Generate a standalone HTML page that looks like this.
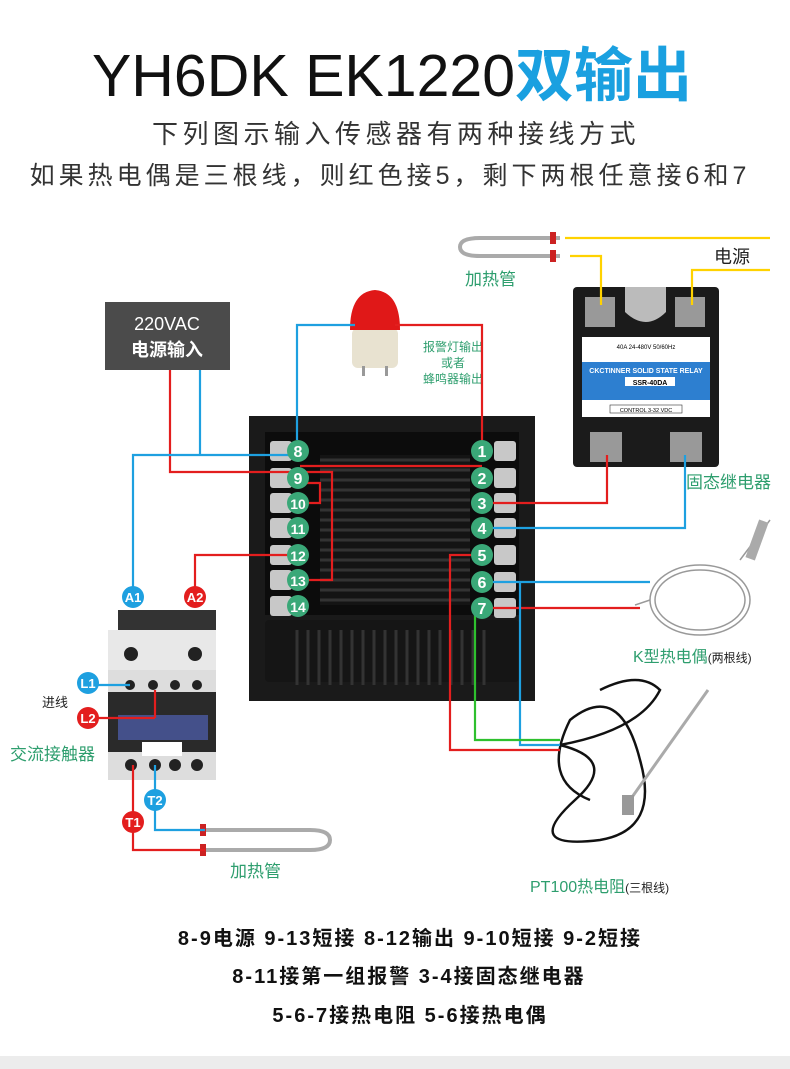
<!DOCTYPE html>
<html><head><meta charset="utf-8"><style>
html,body{margin:0;padding:0;background:#fff}
body{width:790px;height:1069px;overflow:hidden;position:relative;font-family:"Liberation Sans","Noto Sans CJK SC",sans-serif}
</style></head><body>
<svg width="790" height="1069" viewBox="0 0 790 1069" xmlns="http://www.w3.org/2000/svg" style="position:absolute;left:0;top:0;font-family:'Liberation Sans','Noto Sans CJK SC',sans-serif">
<rect x="0" y="1056" width="790" height="13" fill="#ececec"/>
<text x="392" y="96" text-anchor="middle" font-size="59" fill="#111">YH6DK EK1220<tspan fill="#1aa0e0" font-weight="bold">双输出</tspan></text>
<text x="396" y="143" text-anchor="middle" font-size="26" letter-spacing="4.5" fill="#333">下列图示输入传感器有两种接线方式</text>
<text x="390" y="184" text-anchor="middle" font-size="25" letter-spacing="4" fill="#333">如果热电偶是三根线，则红色接5，剩下两根任意接6和7</text>

<!-- 220VAC box -->
<rect x="105" y="302" width="125" height="68" fill="#4b4b4b"/>
<text x="167" y="330" text-anchor="middle" font-size="18" fill="#fff">220VAC</text>
<text x="167" y="356" text-anchor="middle" font-size="18" fill="#fff" font-weight="bold">电源输入</text>

<!-- alarm light -->
<rect x="352" y="328" width="46" height="40" rx="6" fill="#e8e2d0"/>
<path d="M350 330 Q350 292 375 290 Q400 292 400 330 Z" fill="#e01818"/>
<rect x="362" y="366" width="3" height="10" fill="#999"/><rect x="385" y="366" width="3" height="10" fill="#999"/>
<text x="453" y="351" text-anchor="middle" font-size="12" fill="#2e9e6e">报警灯输出</text>
<text x="453" y="367" text-anchor="middle" font-size="12" fill="#2e9e6e">或者</text>
<text x="453" y="383" text-anchor="middle" font-size="12" fill="#2e9e6e">蜂鸣器输出</text>

<!-- controller body -->
<rect x="249" y="416" width="286" height="285" fill="#1a1a1a"/>
<rect x="265" y="432" width="254" height="183" fill="#0c0c0c"/>
<rect x="265" y="620" width="254" height="62" rx="4" fill="#151515"/>
<rect x="320" y="455" width="150" height="150" fill="#141414"/>
<g stroke="#333" stroke-width="3">
<path d="M320 460H470M320 470H470M320 480H470M320 490H470M320 500H470M320 510H470M320 520H470M320 530H470M320 540H470M320 550H470M320 560H470M320 570H470M320 580H470M320 590H470M320 600H470"/>
<path d="M297 630V685M308 630V685M319 630V685M330 630V685M341 630V685M352 630V685M363 630V685M374 630V685M385 630V685M396 630V685M407 630V685M418 630V685M429 630V685M440 630V685M451 630V685M462 630V685M473 630V685M484 630V685"/>
</g>
<g fill="#c8c8c8">
<rect x="270" y="441" width="22" height="20" rx="3"/><rect x="270" y="468" width="22" height="20" rx="3"/><rect x="270" y="493" width="22" height="20" rx="3"/><rect x="270" y="518" width="22" height="20" rx="3"/><rect x="270" y="545" width="22" height="20" rx="3"/><rect x="270" y="570" width="22" height="20" rx="3"/><rect x="270" y="596" width="22" height="20" rx="3"/>
<rect x="494" y="441" width="22" height="20" rx="3"/><rect x="494" y="468" width="22" height="20" rx="3"/><rect x="494" y="493" width="22" height="20" rx="3"/><rect x="494" y="518" width="22" height="20" rx="3"/><rect x="494" y="545" width="22" height="20" rx="3"/><rect x="494" y="572" width="22" height="20" rx="3"/><rect x="494" y="598" width="22" height="20" rx="3"/>
</g>

<!-- SSR -->
<rect x="573" y="287" width="146" height="180" rx="4" fill="#1b1b1b"/>
<path d="M625 287 V312 Q646 332 666 312 V287 Z" fill="#bbb"/>
<rect x="585" y="297" width="30" height="30" fill="#999"/><rect x="675" y="297" width="30" height="30" fill="#999"/>
<rect x="582" y="337" width="128" height="80" fill="#fff"/>
<rect x="582" y="362" width="128" height="38" fill="#2d7fd0"/>
<text x="646" y="373" text-anchor="middle" font-size="7" fill="#fff" font-weight="bold">CKCTINNER SOLID STATE RELAY</text>
<rect x="625" y="377" width="50" height="9" fill="#fff"/><text x="650" y="385" text-anchor="middle" font-size="7" font-weight="bold">SSR-40DA</text>
<text x="646" y="349" text-anchor="middle" font-size="6">40A   24-480V  50/60Hz</text>
<rect x="610" y="405" width="72" height="8" fill="#fff" stroke="#333" stroke-width="0.6"/><text x="646" y="412" text-anchor="middle" font-size="5.5">CONTROL 3-32 VDC</text>
<rect x="590" y="432" width="32" height="30" fill="#999"/><rect x="670" y="432" width="32" height="30" fill="#999"/>
<text x="714" y="263" text-anchor="start" font-size="18" fill="#222">电源</text>
<text x="686" y="488" font-size="17" fill="#2e9e6e">固态继电器</text>

<!-- heating tubes -->
<g fill="none" stroke="#aaa" stroke-width="4">
<path d="M560 238 H480 Q460 238 460 247 Q460 256 480 256 H560"/>
<path d="M200 830 H310 Q330 830 330 840 Q330 850 310 850 H200"/>
</g>
<rect x="550" y="232" width="6" height="12" fill="#c22"/><rect x="550" y="250" width="6" height="12" fill="#c22"/>
<rect x="200" y="824" width="6" height="12" fill="#c22"/><rect x="200" y="844" width="6" height="12" fill="#c22"/>
<text x="465" y="285" font-size="17" fill="#2e9e6e">加热管</text>
<text x="230" y="877" font-size="17" fill="#2e9e6e">加热管</text>

<!-- contactor -->
<rect x="118" y="610" width="98" height="30" fill="#333"/>
<rect x="108" y="630" width="108" height="40" fill="#e8e8e8"/>
<rect x="108" y="670" width="108" height="22" fill="#ddd"/>
<rect x="108" y="692" width="108" height="60" fill="#2a2a2a"/>
<rect x="118" y="715" width="90" height="25" fill="#44508a"/>
<rect x="108" y="752" width="108" height="28" fill="#ddd"/>
<rect x="142" y="742" width="40" height="14" fill="#fff"/>
<g fill="#222"><circle cx="131" cy="654" r="7"/><circle cx="195" cy="654" r="7"/><circle cx="130" cy="685" r="5"/><circle cx="153" cy="685" r="5"/><circle cx="175" cy="685" r="5"/><circle cx="197" cy="685" r="5"/><circle cx="131" cy="765" r="6"/><circle cx="155" cy="765" r="6"/><circle cx="175" cy="765" r="6"/><circle cx="197" cy="765" r="6"/></g>
<text x="10" y="760" font-size="17" fill="#2e9e6e">交流接触器</text>
<text x="42" y="707" font-size="13" fill="#222">进线</text>

<!-- sensors -->
<g fill="none" stroke="#999" stroke-width="1.5">
<ellipse cx="700" cy="600" rx="50" ry="35"/><ellipse cx="700" cy="600" rx="45" ry="30"/>
<path d="M650 600 L635 605"/><path d="M740 560 L770 520"/>
</g>
<rect x="752" y="520" width="10" height="40" fill="#aaa" transform="rotate(20 757 540)"/>
<text x="633" y="662" font-size="16" fill="#2e9e6e">K型热电偶<tspan font-size="12" fill="#222">(两根线)</tspan></text>
<g fill="none" stroke="#111" stroke-width="2.5">
<path d="M560 745 Q620 760 575 800 Q520 850 600 840 Q660 830 640 760 Q620 680 570 720 Q540 780 590 800"/>
<path d="M560 745 Q640 730 660 690 Q640 670 600 690"/>
</g>
<path d="M630 800 L708 690" stroke="#aaa" stroke-width="3"/>
<rect x="622" y="795" width="12" height="20" fill="#999"/>
<text x="530" y="892" font-size="16" fill="#2e9e6e">PT100热电阻<tspan font-size="12" fill="#222">(三根线)</tspan></text>

<!-- wires -->
<g fill="none" stroke-width="2.2">
<path stroke="#e31e1e" d="M170 370 V472 H297 M297 472 H332 V580 H297 M297 483 H320 V503 H297 M300 466 H482 M482 451 V325 H395 M482 503 H607 V455 M297 555 H195 V597 M482 555 H450 V750 H560 M482 608 H640 M155 718 H88 M155 690 V718 M133 765 V850 H205"/>
<path stroke="#1ea0e0" d="M200 370 V455 H297 M297 455 H133 V597 M297 440 V325 H355 M482 528 H685 V455 M482 582 H650 M520 582 V745 H560 M130 685 H88 M155 765 V830 H205"/>
<path stroke="#2ec02e" d="M475 608 V740 H560"/>
<path stroke="#ffd200" d="M565 238 H770 M570 256 H601 V305 M692 305 V270 H770"/>
</g>

<!-- badges -->
<g font-size="16" fill="#fff" text-anchor="middle" font-weight="bold">
<g fill="#3aa878"><circle cx="298" cy="451" r="11"/><circle cx="298" cy="478" r="11"/><circle cx="298" cy="503" r="11"/><circle cx="298" cy="528" r="11"/><circle cx="298" cy="555" r="11"/><circle cx="298" cy="580" r="11"/><circle cx="298" cy="606" r="11"/>
<circle cx="482" cy="451" r="11"/><circle cx="482" cy="478" r="11"/><circle cx="482" cy="503" r="11"/><circle cx="482" cy="528" r="11"/><circle cx="482" cy="555" r="11"/><circle cx="482" cy="582" r="11"/><circle cx="482" cy="608" r="11"/></g>
<text x="298" y="457">8</text><text x="298" y="484">9</text><text x="298" y="509" font-size="14">10</text><text x="298" y="534" font-size="14">11</text><text x="298" y="561" font-size="14">12</text><text x="298" y="586" font-size="14">13</text><text x="298" y="612" font-size="14">14</text>
<text x="482" y="457">1</text><text x="482" y="484">2</text><text x="482" y="509">3</text><text x="482" y="534">4</text><text x="482" y="561">5</text><text x="482" y="588">6</text><text x="482" y="614">7</text>
<circle cx="133" cy="597" r="11" fill="#1ea0e0"/><text x="133" y="602" font-size="13">A1</text>
<circle cx="195" cy="597" r="11" fill="#e31e1e"/><text x="195" y="602" font-size="13">A2</text>
<circle cx="88" cy="683" r="11" fill="#1ea0e0"/><text x="88" y="688" font-size="13">L1</text>
<circle cx="88" cy="718" r="11" fill="#e31e1e"/><text x="88" y="723" font-size="13">L2</text>
<circle cx="155" cy="800" r="11" fill="#1ea0e0"/><text x="155" y="805" font-size="13">T2</text>
<circle cx="133" cy="822" r="11" fill="#e31e1e"/><text x="133" y="827" font-size="13">T1</text>
</g>

<g font-size="20" font-weight="bold" fill="#111" text-anchor="middle" letter-spacing="2">
<text x="410" y="945">8-9电源 9-13短接 8-12输出 9-10短接 9-2短接</text>
<text x="409" y="983">8-11接第一组报警 3-4接固态继电器</text>
<text x="410" y="1022">5-6-7接热电阻  5-6接热电偶</text>
</g>
</svg>
</body></html>
